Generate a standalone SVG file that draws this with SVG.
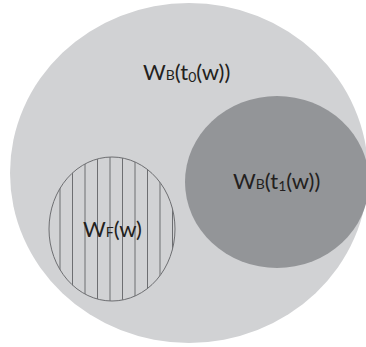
<svg xmlns="http://www.w3.org/2000/svg" width="366" height="347" viewBox="0 0 366 347">
<style>
text{font-family:Lato,"Open Sans","Liberation Sans",sans-serif;fill:#231f20;font-size:22px}
.s{font-size:14px}
.h{stroke:#6d6e71;stroke-width:1}
</style>
<defs>
<clipPath id="cf"><ellipse cx="112" cy="229" rx="63" ry="72"/></clipPath>
</defs>
<rect width="366" height="347" fill="#fff"/>
<g id="outer">
<ellipse cx="189" cy="173" rx="179" ry="170" fill="#d1d2d4"/>
<text x="143" y="80">W<tspan class="s">B</tspan>(t<tspan class="s" dy="2">0</tspan><tspan dy="-2">(w))</tspan></text>
</g>
<g id="t1">
<ellipse cx="277" cy="182" rx="92" ry="86" fill="#939598"/>
<text x="233" y="189">W<tspan class="s">B</tspan>(t<tspan class="s" dy="2">1</tspan><tspan dy="-2">(w))</tspan></text>
</g>
<g id="wf">
<ellipse cx="112" cy="229" rx="63" ry="72" fill="#d1d2d4"/>
<g clip-path="url(#cf)" class="h">
<line x1="60" y1="150" x2="60" y2="310"/>
<line x1="72.5" y1="150" x2="72.5" y2="310"/>
<line x1="85" y1="150" x2="85" y2="310"/>
<line x1="97.5" y1="150" x2="97.5" y2="310"/>
<line x1="110" y1="150" x2="110" y2="310"/>
<line x1="122.5" y1="150" x2="122.5" y2="310"/>
<line x1="135" y1="150" x2="135" y2="310"/>
<line x1="147.5" y1="150" x2="147.5" y2="310"/>
<line x1="160" y1="150" x2="160" y2="310"/>
<line x1="172.5" y1="150" x2="172.5" y2="310"/>
</g>
<ellipse cx="112" cy="229" rx="63" ry="72" fill="none" stroke="#6d6e71" stroke-width="1"/>
<text x="83" y="237">W<tspan class="s">F</tspan>(w)</text>
</g>
</svg>
